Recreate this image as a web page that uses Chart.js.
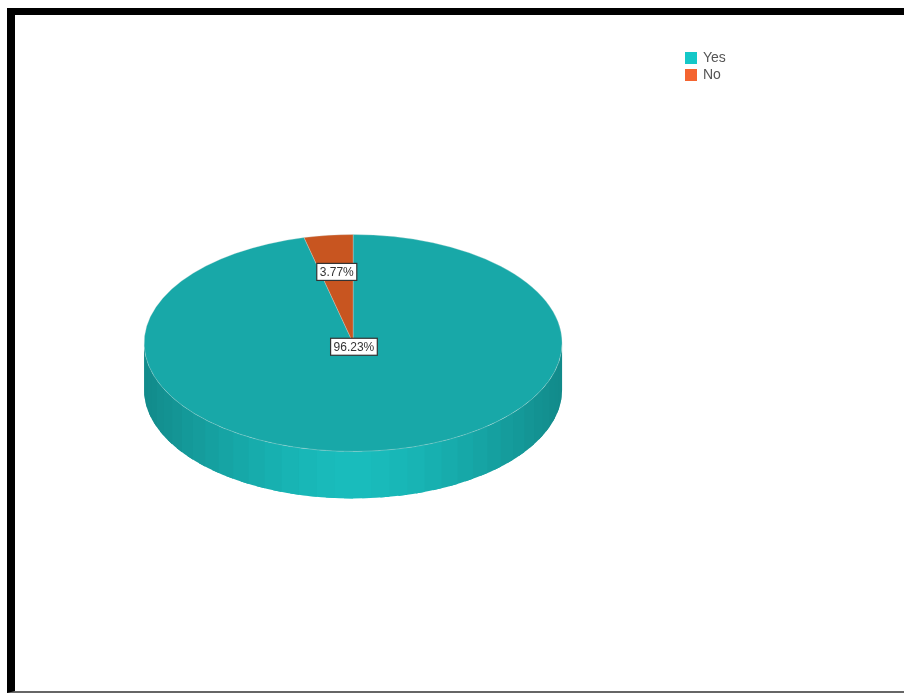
<!DOCTYPE html>
<html>
<head>
<meta charset="utf-8">
<title>Yes / No pie</title>
<script src="https://cdn.jsdelivr.net/npm/chart.js@4"></script>
<style>
  html, body { margin: 0; padding: 0; background: #fff; overflow: hidden; }
  #wrap { position: relative; width: 904px; height: 693px; }
  #frame {
    position: absolute; left: 7px; top: 8px; right: -10px; bottom: 0;
    border-left: 8px solid #000; border-top: 7px solid #000; border-bottom: 2px solid #666;
  }
  canvas { position: absolute; left: 0; top: 0; }
</style>
</head>
<body>
<div id="wrap">
  <canvas id="pie" width="904" height="693"></canvas>
  <div id="frame"></div>
</div>
<script>
const categories = ['Yes', 'No'];
const percents = [96.23, 3.77];

const sliceColors = ['#18a8a8', '#c85520'];
const legendColors = ['#14c8c8', '#f46430'];

// how far along the radius each value tag sits
const tagRadius = [0.035, 0.66];

const SQUASH = 0.519;   // flattens the round pie into a tilted disc
const DEPTH = 47;       // height of the side wall
const WALL_STRIPS = 36;

function wallColor(angle) {
  const t = Math.pow(Math.abs(Math.cos(angle)), 1.5);
  const r = Math.round(25 - 7 * t);
  const g = Math.round(188 - 50 * t);
  return `rgb(${r},${g},${g})`;
}

// draws the front of the disc in strips, only for the part facing the viewer.
// each strip runs under the next one so no seams show between them
function drawWall(ctx, arc) {
  const from = Math.max(arc.startAngle, 0);
  const to = Math.min(arc.endAngle, Math.PI);
  if (to <= from) return;

  const rx = arc.outerRadius;
  const ry = rx * SQUASH;
  const step = (to - from) / WALL_STRIPS;

  for (let i = 0; i < WALL_STRIPS; i++) {
    const a0 = from + i * step;
    const a1 = Math.min(a0 + step * 1.5, to);
    ctx.beginPath();
    ctx.ellipse(arc.x, arc.y, rx, ry, 0, a0, a1);
    ctx.ellipse(arc.x, arc.y + DEPTH, rx, ry, 0, a1, a0, true);
    ctx.closePath();
    ctx.fillStyle = wallColor(a0 + step / 2);
    ctx.fill();
  }
}

function drawTag(ctx, text, x, y) {
  ctx.font = '12px "Liberation Sans", Arial, sans-serif';
  const w = ctx.measureText(text).width + 6;
  const h = 17;
  ctx.fillStyle = '#fff';
  ctx.strokeStyle = '#333';
  ctx.lineWidth = 1.2;
  ctx.fillRect(x - w / 2, y - h / 2, w, h);
  ctx.strokeRect(x - w / 2, y - h / 2, w, h);
  ctx.fillStyle = '#333';
  ctx.textAlign = 'center';
  ctx.textBaseline = 'middle';
  ctx.fillText(text, x, y + 0.5);
}

const tiltedDisc = {
  id: 'tiltedDisc',
  afterLayout(chart) {
    // legend sits in the top right corner, away from the pie
    const legend = chart.legend;
    const w = legend.width;
    const h = legend.height;
    legend.left = 683;
    legend.right = 683 + w;
    legend.top = 48;
    legend.bottom = 48 + h;
  },
  beforeDatasetsDraw(chart) {
    const ctx = chart.ctx;
    const arcs = chart.getDatasetMeta(0).data;
    arcs.forEach(arc => drawWall(ctx, arc));

    const { x, y } = arcs[0];
    ctx.save();
    ctx.translate(x, y);
    ctx.scale(1, SQUASH);
    ctx.translate(-x, -y);
  },
  afterDatasetsDraw(chart) {
    const ctx = chart.ctx;
    ctx.restore();

    ctx.save();
    chart.getDatasetMeta(0).data.forEach((arc, i) => {
      const mid = (arc.startAngle + arc.endAngle) / 2;
      const r = arc.outerRadius * tagRadius[i];
      const tx = arc.x + Math.cos(mid) * r;
      const ty = arc.y + Math.sin(mid) * r * SQUASH;
      drawTag(ctx, percents[i].toFixed(2) + '%', tx, ty);
    });
    ctx.restore();
  }
};

new Chart(document.getElementById('pie'), {
  type: 'pie',
  data: {
    labels: categories,
    datasets: [{
      data: percents,
      backgroundColor: sliceColors,
      borderColor: 'rgba(214,226,222,0.4)',
      borderWidth: 1
    }]
  },
  options: {
    responsive: false,
    animation: false,
    radius: 209,
    layout: { padding: { left: 0, top: 0, right: 145, bottom: 7 } },
    plugins: {
      tooltip: { enabled: false },
      title: { display: false },
      legend: {
        position: 'right',
        align: 'start',
        labels: {
          boxWidth: 10,
          boxHeight: 10,
          padding: 3,
          font: { family: '"Liberation Sans", Arial, sans-serif', size: 14 },
          generateLabels: () => categories.map((name, i) => ({
            text: name,
            fillStyle: legendColors[i],
            strokeStyle: legendColors[i],
            fontColor: '#555',
            lineWidth: 2,
            index: i
          }))
        }
      }
    }
  },
  plugins: [tiltedDisc]
});
</script>
</body>
</html>
